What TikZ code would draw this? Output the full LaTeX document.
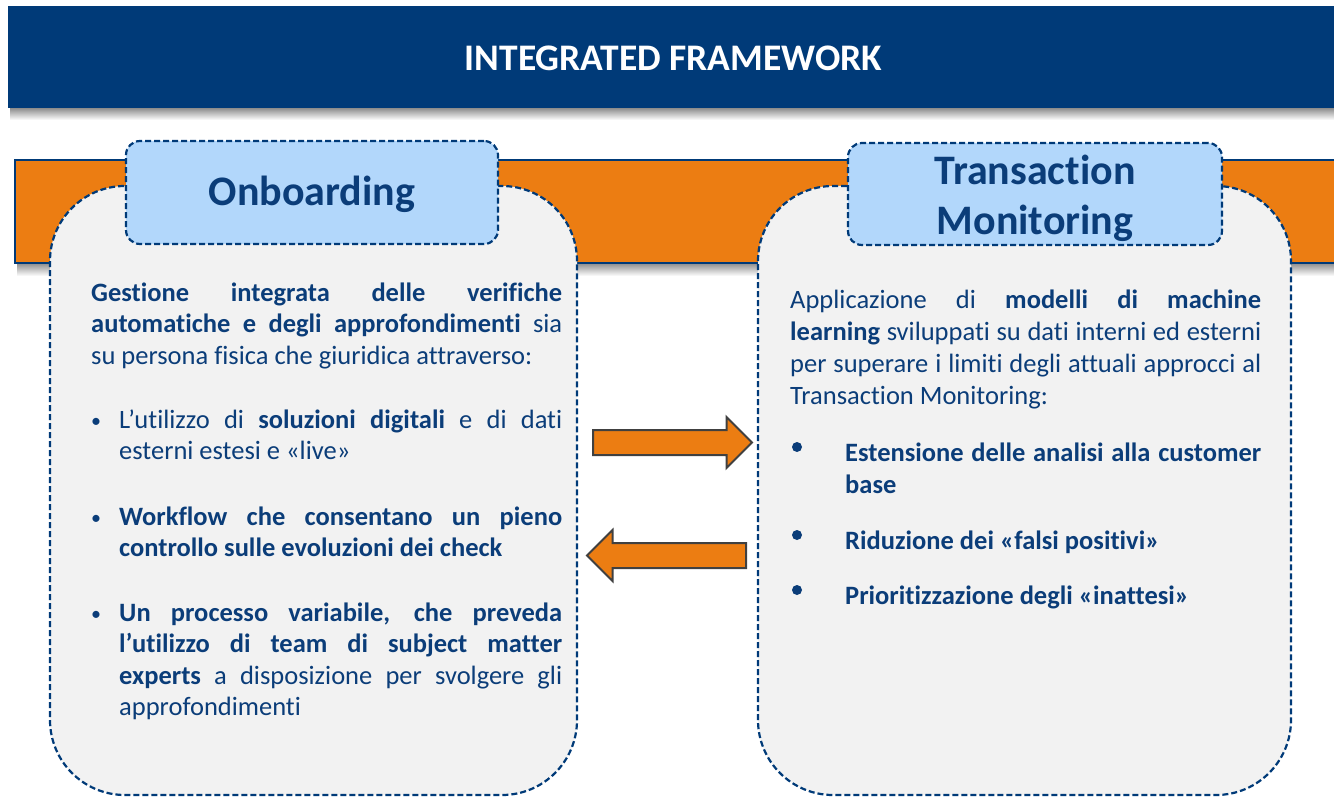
\documentclass[tikz,border=0pt]{standalone}
\usepackage{fontspec}
\setmainfont{Carlito}[Ligatures=NoCommon]
\usetikzlibrary{shapes.arrows}

\definecolor{fwblue}{HTML}{003A78}
\definecolor{fwtext}{HTML}{0B3D79}
\definecolor{fworange}{HTML}{EC7D12}
\definecolor{fwhead}{HTML}{B2D7FB}
\definecolor{fwpanel}{HTML}{F2F2F2}
\definecolor{fwgrey}{HTML}{404040}
\tolerance=10000 \hbadness=10000

\tikzset{
  panel/.style={draw=fwblue, fill=fwpanel, line width=2.2pt, dash pattern=on 6pt off 3pt,
    rounded corners=75pt, inner sep=0pt},
  header/.style={draw=fwblue, fill=fwhead, line width=2.2pt, dash pattern=on 6pt off 3pt,
    rounded corners=14pt, inner sep=0pt},
  headtitle/.style={inner sep=0pt, text=fwtext, align=center,
    font=\fontsize{42}{50}\selectfont\bfseries},
  bodytext/.style={text width=#1, align=justify, inner sep=0pt, anchor=base west,
    text=fwtext, font=\fontsize{26.5}{31.5}\selectfont},
  bodytext/.default=471pt,
  lbullet/.style={inner sep=0pt, anchor=base west, text=fwtext, font=\fontsize{20}{31.5}\selectfont},
  rbullet/.style={circle, fill=fwtext, inner sep=0pt, minimum size=10pt},
  blockarrow/.style={single arrow, draw=fwgrey, fill=fworange, line width=2pt,
    inner xsep=0pt, inner ysep=11.5pt, single arrow head extend=13pt,
    single arrow head indent=0pt, minimum height=159pt, anchor=tail},
  softshade/.style={top color=black!45, bottom color=white, draw=none}
}

\begin{document}
\begin{tikzpicture}[x=1pt,y=-1pt]
\useasboundingbox (0,0) rectangle (1334,797);

% title bar and orange band
\shade[softshade] (10,108) rectangle (1345,120);
\fill[fwblue] (8,6) rectangle (1345,108);
\node[text=white, font=\fontsize{37.5}{40}\selectfont\bfseries, anchor=base] (title) at (673.5,71) {INTEGRATED FRAMEWORK};
\shade[softshade] (17,263) rectangle (1345,276);
\draw[fwblue, fill=fworange, line width=1.5pt] (15,160) rectangle (1345,263);

% panels
\node[panel, minimum width=527pt, minimum height=609pt] (lpanel) at (313.5,490.5) {};
\node[panel, minimum width=533pt, minimum height=609pt] (rpanel) at (1024.5,490.5) {};
\node[header, minimum width=372pt, minimum height=103pt] (lhead) at (312,192.5) {};
\node[header, minimum width=374pt, minimum height=102pt] (rhead) at (1035,194) {};
\node[headtitle] (lheadtext) at ([yshift=-2pt]lhead.center) {Onboarding};
\node[headtitle] (rheadtext) at ([yshift=-4pt]rhead.center) {Transaction\\Monitoring};

% left text
\node[bodytext] (lintro) at (91,301) {\textbf{Gestione integrata delle verifiche\linebreak automatiche e degli approfondimenti} sia\linebreak su persona fisica che giuridica attraverso:};
\node[lbullet] (lb1) at (91,427) {•};
\node[bodytext=443pt] (litem1) at (119,428) {L’utilizzo di \textbf{soluzioni digitali} e di dati\linebreak esterni estesi e «live»};
\node[lbullet] (lb2) at (91,524) {•};
\node[bodytext=443pt] (litem2) at (119,525) {\textbf{Workflow che consentano un pieno\linebreak controllo sulle evoluzioni dei check}};
\node[lbullet] (lb3) at (91,620) {•};
\node[bodytext=443pt] (litem3) at (119,621) {\textbf{Un processo variabile, che preveda\linebreak l’utilizzo di team di subject matter\linebreak experts} a disposizione per svolgere gli\linebreak approfondimenti};

% right text
\node[bodytext, font=\fontsize{26.5}{32}\selectfont] (rintro) at (790,308) {Applicazione di \textbf{modelli di machine\linebreak learning} sviluppati su dati interni ed esterni\linebreak per superare i limiti degli attuali approcci al\linebreak Transaction Monitoring:};
\node[rbullet] (rb1) at (797,447) {};
\node[bodytext=416pt, font=\fontsize{26.5}{32}\selectfont\bfseries] (ritem1) at (845,461) {Estensione delle analisi alla customer\linebreak base};
\node[rbullet] (rb2) at (797,535) {};
\node[bodytext=416pt, font=\fontsize{26.5}{32}\selectfont\bfseries] (ritem2) at (845,549) {Riduzione dei «falsi positivi»};
\node[rbullet] (rb3) at (797,590) {};
\node[bodytext=416pt, font=\fontsize{26.5}{32}\selectfont\bfseries] (ritem3) at (845,604) {Prioritizzazione degli «inattesi»};

% arrows between the panels
\node[blockarrow] (toright) at (592,442.5) {};
\node[blockarrow, shape border rotate=180] (toleft) at (747,555.5) {};
\end{tikzpicture}
\end{document}
